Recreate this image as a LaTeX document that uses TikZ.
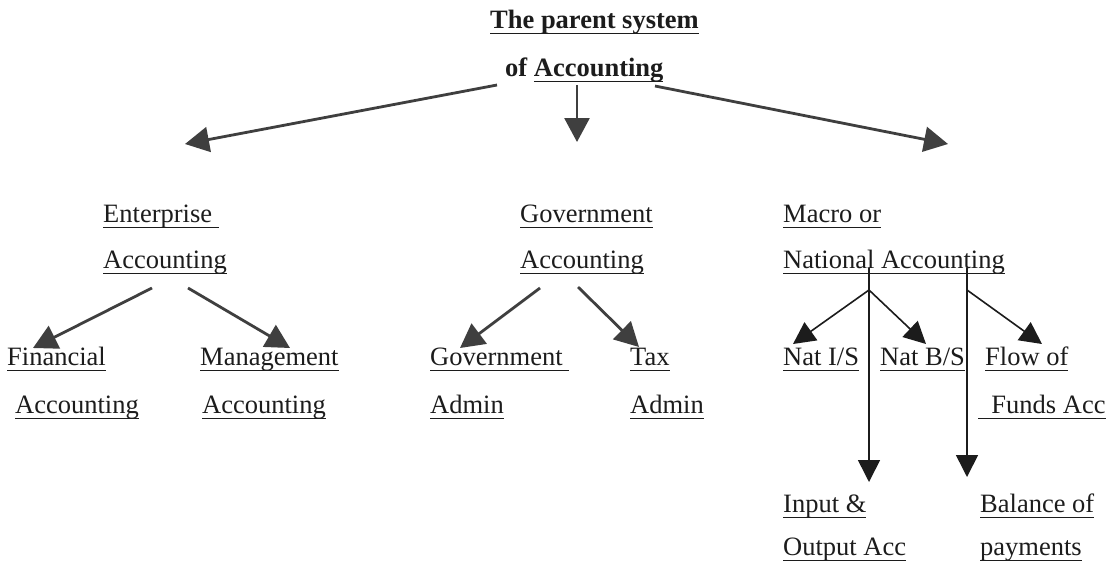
\documentclass[tikz,border=0pt]{standalone}
\usepackage{fontspec}
\setmainfont{Liberation Serif}
\usetikzlibrary{arrows.meta}
\definecolor{ink}{HTML}{1C1C1C}
\definecolor{arrowgray}{HTML}{3F3F3F}
% underline at a fixed depth below the baseline
\newcommand\myul[1]{\leavevmode\setbox0\hbox{#1}\rlap{\rule[-6pt]{\wd0}{1.4pt}}\box0}
\begin{document}
\begin{tikzpicture}[x=1pt,y=-1pt,
  lbl/.style={anchor=base west,inner sep=0pt,text=ink,
    font=\fontsize{26.5}{30}\selectfont},
  ttl/.style={lbl,font=\fontsize{26.5}{30}\selectfont\bfseries},
  arr/.style={draw=arrowgray,line width=2.8pt,
    -{Triangle[length=24pt,width=25pt]}},
  thin arr/.style={draw=ink,line width=1.6pt,
    -{Triangle[length=22pt,width=22pt]}}]
\useasboundingbox[fill=white] (0,0) rectangle (1113,570);

% title
\node[ttl] (t1) at (490,28) {\myul{The parent system}};
\node[ttl] (t2) at (505,76) {of \myul{Accounting}};

% second level
\node[lbl] (ent1) at (103,222) {\myul{Enterprise\ }};
\node[lbl] (ent2) at (103,268) {\myul{Accounting}};
\node[lbl] (gov1) at (520,222) {\myul{Government}};
\node[lbl] (gov2) at (520,268) {\myul{Accounting}};
\node[lbl] (mac1) at (783,222) {\myul{Macro or}};
\node[lbl] (mac2) at (783,268) {\myul{National Accounting}};

% third level
\node[lbl] (fin1) at (7,365) {\myul{Financial}};
\node[lbl] (fin2) at (15,413) {\myul{Accounting}};
\node[lbl] (man1) at (200,365) {\myul{Management}};
\node[lbl] (man2) at (202,413) {\myul{Accounting}};
\node[lbl] (gad1) at (430,365) {\myul{Government\ }};
\node[lbl] (gad2) at (430,413) {\myul{Admin}};
\node[lbl] (tax1) at (630,365) {\myul{Tax}};
\node[lbl] (tax2) at (630,413) {\myul{Admin}};
\node[lbl] (nis) at (783,365) {\myul{Nat I/S}};
\node[lbl] (nbs) at (880,365) {\myul{Nat B/S}};
\node[lbl] (flw1) at (985,365) {\myul{Flow of}};
\node[lbl] (flw2) at (978,413) {\myul{\ \ Funds Acc}};

% fourth level
\node[lbl] (io1) at (783,512) {\myul{Input \&}};
\node[lbl] (io2) at (783,555) {\myul{Output Acc}};
\node[lbl] (bop1) at (980,512) {\myul{Balance of}};
\node[lbl] (bop2) at (980,555) {\myul{payments}};

% connectors from the parent system
\draw[arr] ([xshift=-8pt,yshift=-9pt]t2.base west) -- ([xshift=82pt,yshift=78pt]ent1.base west);
\draw[arr] ([xshift=72pt,yshift=-9pt]t2.base west) -- ([xshift=57pt,yshift=80pt]gov1.base west);
\draw[arr] ([xshift=150pt,yshift=-10pt]t2.base west) -- ([xshift=165pt,yshift=78pt]mac1.base west);

% enterprise accounting
\draw[arr] ([xshift=49pt,yshift=-20pt]ent2.base west) -- ([xshift=26pt,yshift=17pt]fin1.base west);
\draw[arr] ([xshift=85pt,yshift=-20pt]ent2.base west) -- ([xshift=90pt,yshift=17pt]man1.base west);

% government accounting
\draw[arr] ([xshift=20pt,yshift=-20pt]gov2.base west) -- ([xshift=30pt,yshift=17pt]gad1.base west);
\draw[arr] ([xshift=58pt,yshift=-19pt]gov2.base west) -- ([xshift=9pt,yshift=18pt]tax1.base west);

% national accounting
\coordinate (jA) at ([xshift=86pt,yshift=-22pt]mac2.base west);
\coordinate (jB) at ([xshift=184pt,yshift=-22pt]mac2.base west);
\draw[thin arr] ([xshift=86pt]mac2.base west) -- ([xshift=86pt,yshift=30pt]io1.base west);
\draw[thin arr] ([xshift=184pt]mac2.base west) -- ([xshift=-13pt,yshift=35pt]bop1.base west);
\draw[thin arr] (jA) -- ([xshift=10pt,yshift=21pt]nis.base west);
\draw[thin arr] (jA) -- ([xshift=46pt,yshift=21pt]nbs.base west);
\draw[thin arr] (jB) -- ([xshift=57pt,yshift=21pt]flw1.base west);
\end{tikzpicture}
\end{document}
